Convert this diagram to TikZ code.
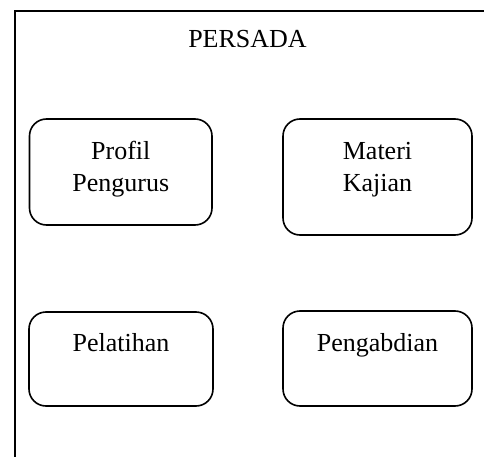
\documentclass[tikz,border=0pt]{standalone}
\usepackage{fontspec}
\setmainfont{Liberation Serif}
\begin{document}
\begin{tikzpicture}[x=1pt,y=-1pt,
  box/.style={draw=black, line width=1.6pt, rounded corners=17pt, inner sep=0pt},
  lbl/.style={anchor=base, align=center, inner sep=0pt, font=\fontsize{26}{31.7}\selectfont}]
\useasboundingbox (0,0) rectangle (484,457);
\coordinate (tr) at (490,11);
\coordinate (tl) at (15,11);
\coordinate (bl) at (15,465);
\draw[line width=1.8pt] (tr) -- (tl) -- (bl);
\node[lbl] (title) at (247.5,47.3) {PERSADA};
\node[box, minimum width=182.5pt, minimum height=106pt] (profil) at (120.75,172) {};
\node[lbl] (profiltxt) at (120.75,191.7) {Profil\\Pengurus};
\node[box, minimum width=189pt, minimum height=116pt] (materi) at (377.5,177) {};
\node[lbl] (materitxt) at (377.5,191.7) {Materi\\Kajian};
\node[box, minimum width=184pt, minimum height=94pt] (pelatihan) at (121,359) {};
\node[lbl] (pelatihantxt) at (121,351.7) {Pelatihan};
\node[box, minimum width=189pt, minimum height=95pt] (pengabdian) at (377.5,358.5) {};
\node[lbl] (pengabdiantxt) at (377.5,351.7) {Pengabdian};
\end{tikzpicture}
\end{document}
